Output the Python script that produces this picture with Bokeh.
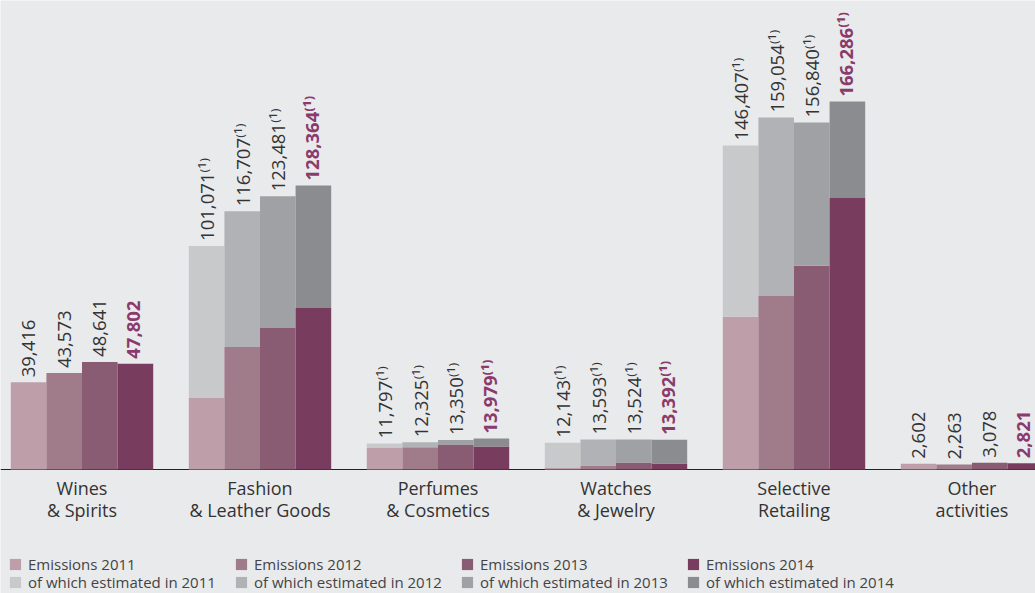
import math
from bokeh.plotting import figure
from bokeh.models import ColumnDataSource, Legend, LegendItem, Span, Range1d
from bokeh.core.properties import value
from bokeh.embed import file_html
from bokeh.resources import INLINE

# ---------------- data ----------------
categories = ["Wines\n& Spirits", "Fashion\n& Leather Goods", "Perfumes\n& Cosmetics",
              "Watches\n& Jewelry", "Selective\nRetailing", "Other\nactivities"]
years = ["2011", "2012", "2013", "2014"]

emissions_2011 = [39416, 101071, 11797, 12143, 146407, 2602]
emissions_2012 = [43573, 116707, 12325, 13593, 159054, 2263]
emissions_2013 = [48641, 123481, 13350, 13524, 156840, 3078]
emissions_2014 = [47802, 128364, 13979, 13392, 166286, 2821]

estimated_2011 = [0, 68700, 1800, 11200, 77400, 0]
estimated_2012 = [0, 61300, 2300, 11800, 80600, 0]
estimated_2013 = [0, 59500, 2300, 10400, 64800, 0]
estimated_2014 = [0, 55400, 3600, 10700, 43600, 0]

footnote = [False, True, True, True, True, False]

emissions = [emissions_2011, emissions_2012, emissions_2013, emissions_2014]
estimated = [estimated_2011, estimated_2012, estimated_2013, estimated_2014]

# ---------------- style ----------------
BG = "#e9eaec"
emission_colors = ["#bd9ea9", "#a07b8a", "#8a5c74", "#783d5e"]
estimate_colors = ["#c8c9cb", "#b1b2b5", "#a0a1a4", "#8b8c90"]
label_colors = ["#333333", "#333333", "#333333", "#8a3a6c"]
label_styles = ["normal", "normal", "normal", "bold"]
label_dx = [0, 0, 0, -2]
FONT = "Open Sans"

W, H = 1035, 593
base_px = 469          # baseline, px from top of frame
units_per_px = 452.0
group_px = 178.0
first_center_px = 81.5
bar_w = 0.2

x_start = -first_center_px / group_px
x_end = (W - first_center_px) / group_px
y_end = base_px * units_per_px
y_start = -(H - base_px) * units_per_px

p = figure(width=W, height=H, output_backend="svg", toolbar_location=None,
           x_range=Range1d(x_start, x_end), y_range=Range1d(y_start, y_end),
           x_axis_location=None, y_axis_location=None, min_border=0,
           background_fill_color=BG, border_fill_color=BG, outline_line_color=None)
p.grid.visible = False

baseline = Span(location=0, dimension="width", line_color="#222222", line_width=1.2, level="underlay")
p.add_layout(baseline)

idx = list(range(len(categories)))
em_renderers = []
est_renderers = []
for j, yr in enumerate(years):
    xs = [i + (j - 1.5) * bar_w for i in idx]
    measured = [t - e for t, e in zip(emissions[j], estimated[j])]
    src = ColumnDataSource(dict(x=xs, total=emissions[j], measured=measured,
                                zero=[0] * len(idx)))
    r1 = p.vbar(x="x", bottom="zero", top="measured", width=bar_w, source=src,
                fill_color=emission_colors[j], line_color=None)
    r2 = p.vbar(x="x", bottom="measured", top="total", width=bar_w, source=src,
                fill_color=estimate_colors[j], line_color=None)
    em_renderers.append(r1)
    est_renderers.append(r2)
    labels = ["{:,}".format(v) + ("\u207d\u00b9\u207e" if f else "")
              for v, f in zip(emissions[j], footnote)]
    lsrc = ColumnDataSource(dict(x=xs, y=emissions[j], text=labels))
    p.text(x="x", y="y", text="text", source=lsrc, angle=math.pi / 2,
           text_align="left", text_baseline="middle", y_offset=-5, x_offset=label_dx[j],
           text_font=value(FONT), text_font_size="18.5px",
           text_color=label_colors[j], text_font_style=label_styles[j])

csrc = ColumnDataSource(dict(x=idx, y=[0] * len(idx), text=categories))
p.text(x="x", y="y", text="text", source=csrc, text_align="center",
       text_baseline="top", y_offset=6, text_font=value(FONT),
       text_font_size="18px", text_color="#333333", text_line_height=0.95)

common = dict(orientation="horizontal", glyph_width=14, glyph_height=14,
              label_standoff=6, label_width=200, label_height=14, spacing=6,
              padding=0, margin=0, border_line_color=None, background_fill_alpha=0,
              label_text_font=FONT, label_text_font_size="15px",
              label_text_color="#444444")
legend_em = Legend(items=[LegendItem(label="Emissions " + y, renderers=[em_renderers[j]])
                          for j, y in enumerate(years)], location=(8, 19), **common)
legend_est = Legend(items=[LegendItem(label="of which estimated in " + y, renderers=[est_renderers[j]])
                           for j, y in enumerate(years)], location=(8, 1), **common)
p.add_layout(legend_em)
p.add_layout(legend_est)

open("out.html", "w").write(file_html(p, INLINE))
